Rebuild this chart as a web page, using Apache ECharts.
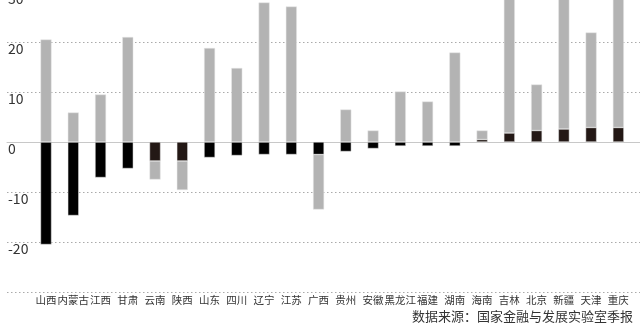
<!DOCTYPE html>
<html>
<head>
<meta charset="utf-8">
<script src="https://cdn.jsdelivr.net/npm/echarts@6/dist/echarts.min.js"></script>
<style>
html,body{margin:0;padding:0;background:#fff;overflow:hidden;}
#c{width:640px;height:338.33px;margin-top:-8.33px;}
</style>
</head>
<body>
<div id="c"></div>
<script>
const categories = ['山西','内蒙古','江西','甘肃','云南','陕西','山东','四川','辽宁','江苏','广西','贵州','安徽','黑龙江','福建','湖南','海南','吉林','北京','新疆','天津','重庆'];
const blackValues = [-20.5,-14.7,-7.1,-5.3,-3.8,-3.8,-3.1,-2.7,-2.5,-2.5,-2.5,-1.9,-1.3,-0.8,-0.8,-0.8,0.5,1.8,2.3,2.6,2.9,2.9];
const grayValues  = [20.5,5.9,9.5,21.0,-3.7,-5.8,18.8,14.8,27.9,27.1,-11.0,6.5,2.3,10.1,8.1,17.9,1.8,30.0,9.2,31.0,19.0,32.0];
const yTicks = {min:-30, max:30, interval:10};
const sourceText = '数据来源：国家金融与发展实验室季报';

const brownCats = ['云南','陕西','海南','吉林','北京','新疆','天津','重庆'];
const FONT = "'Noto Sans CJK SC', 'Noto Sans', sans-serif";
const chart = echarts.init(document.getElementById('c'), null, {renderer:'canvas', width:640, height:338.33});
const gridTop = 0, gridBottom = 38.33;
chart.setOption({
  backgroundColor:'#fff',
  animation:false,
  textStyle:{fontFamily:FONT},
  grid:[
    {left:7, right:0, top:gridTop, bottom:gridBottom, containLabel:false},
    {left:32.4, right:8, top:gridTop, bottom:gridBottom, containLabel:false}
  ],
  xAxis:[
    {gridIndex:0, type:'category', data:[''], axisLine:{show:true, lineStyle:{color:'#c8c8c8', width:1}},
     axisTick:{show:false}, axisLabel:{show:false}, splitLine:{show:false}},
    {gridIndex:1, type:'category', data:categories, axisLine:{show:false}, axisTick:{show:false},
     axisLabel:{interval:0, margin:3, fontSize:10.5, color:'#333', fontFamily:FONT}}
  ],
  yAxis:[
    {gridIndex:0, type:'value', min:yTicks.min, max:yTicks.max, interval:yTicks.interval,
     axisLine:{show:false}, axisTick:{show:false},
     axisLabel:{inside:true, margin:1, fontSize:14, color:'#333', verticalAlign:'top', align:'left', showMinLabel:false, fontFamily:FONT},
     splitLine:{show:true, lineStyle:{color:'#aaa', type:[1.5,2.5], width:1}}},
    {gridIndex:1, type:'value', min:yTicks.min, max:yTicks.max, interval:yTicks.interval,
     axisLine:{show:false}, axisTick:{show:false}, axisLabel:{show:false}, splitLine:{show:false}}
  ],
  series:[
    {type:'bar', xAxisIndex:1, yAxisIndex:1, stack:'s', barWidth:11,
     data:blackValues.map((v,i)=>({value:v, itemStyle:{color: brownCats.includes(categories[i]) ? '#231815' : '#000'}})),
     itemStyle:{borderColor:'#e6e6e6', borderWidth:0.5}},
    {type:'bar', xAxisIndex:1, yAxisIndex:1, stack:'s', barWidth:11, data:grayValues,
     itemStyle:{color:'#b3b3b3', borderColor:'#e6e6e6', borderWidth:0.5}}
  ],
  graphic:[
    {type:'text', right:7, top:317.3, style:{text:sourceText, font:"13px "+FONT, fill:'#333'}}
  ]
});
</script>
</body>
</html>
